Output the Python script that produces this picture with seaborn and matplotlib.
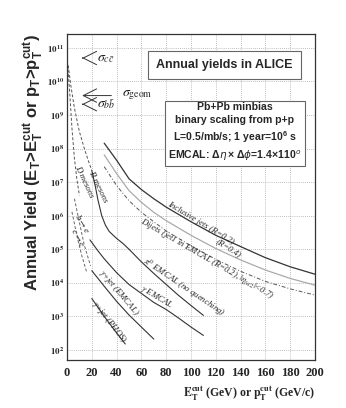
import numpy as np
import pandas as pd
import matplotlib
matplotlib.use("Agg")
import matplotlib.pyplot as plt
import seaborn as sns

# ---------------- data ----------------
jet_x = [30, 40, 50, 60, 70, 80, 100, 120, 140, 160, 180, 200]
incl_r02 = [1.45e8, 4.5e7, 1.26e7, 6.0e6, 3.2e6, 1.8e6, 6.6e5, 2.6e5, 1.2e5, 5.6e4, 3.0e4, 1.8e4]
incl_r04 = [6.5e7, 1.8e7, 5.6e6, 2.5e6, 1.26e6, 7.1e5, 2.6e5, 1.05e5, 4.8e4, 2.4e4, 1.35e4, 8.5e3]
dijets = [2.9e7, 7.9e6, 2.8e6, 1.26e6, 6.6e5, 3.5e5, 1.26e5, 5.0e4, 2.2e4, 1.1e4, 6.6e3, 4.3e3]

dmes_x = [0.5, 2, 4, 6, 8, 10]
dmes_y = [3.2e10, 6e9, 4e8, 5e7, 1.2e7, 4e6]
bmes_x = [1, 3, 6, 10, 14, 17, 20]
bmes_y = [3e10, 8e9, 1.6e9, 3.2e8, 1e8, 4.6e7, 2.2e7]

pi0_x = [20, 23, 25, 28, 31, 34, 40, 45, 50, 60, 70, 80, 90, 100, 110]
pi0_y = [2.2e7, 7e6, 2.9e6, 1.0e6, 5.2e5, 3.4e5, 2.1e5, 1.5e5, 1.0e5, 4.2e4, 1.9e4, 8.9e3, 4.2e3, 2.1e3, 1.07e3]
gam_x = [18.5, 25, 30, 40, 50, 60, 70, 80, 90, 100, 110]
gam_y = [1.9e5, 8.9e4, 5.2e4, 2.0e4, 8.9e3, 4.8e3, 2.6e3, 1.6e3, 8.9e2, 4.8e2, 2.7e2]
gjet_x = [20, 30, 40, 50, 60, 70]
gjet_y = [2.3e4, 7.9e3, 2.8e3, 1.1e3, 4.8e2, 2.1e2]
gphos_x = [20, 30, 40, 47]
gphos_y = [3.4e3, 1.0e3, 3.2e2, 1.5e2]
be_x = [6, 10, 14, 19]
be_y = [3.2e6, 6.3e5, 1.3e5, 3.2e4]
ce_x = [4, 8, 12, 16]
ce_y = [1.3e6, 2.5e5, 6.3e4, 2.0e4]

sigma_labels = [r"$\sigma_{c\bar{c}}$", r"$\sigma_{\rm geom}$", r"$\sigma_{b\bar{b}}$"]
sigma_y = [5.0e10, 3.8e9, 2.1e9]

x_ticks = [0, 20, 40, 60, 80, 100, 120, 140, 160, 180, 200]
y_ticks = [1e2, 1e3, 1e4, 1e5, 1e6, 1e7, 1e8, 1e9, 1e10, 1e11]

# ---------------- figure ----------------
sns.set_theme(style="white")
plt.rcParams["font.family"] = ["Liberation Serif", "DejaVu Serif"]
plt.rcParams["mathtext.fontset"] = "custom"
plt.rcParams["mathtext.bf"] = "Liberation Sans:bold"
plt.rcParams["mathtext.rm"] = "Liberation Sans:bold"

fig = plt.figure(figsize=(3.46, 4.08), dpi=100)
ax = fig.add_axes([67/346, 1-360/408, (315-67)/346, (360-34)/408])

def draw(x, y, **kw):
    df = pd.DataFrame({"x": x, "y": y})
    sns.lineplot(data=df, x="x", y="y", ax=ax, sort=False, legend=False, **kw)

draw(jet_x, incl_r02, color="#333333", lw=0.9)
draw(jet_x, incl_r04, color="#aaaaaa", lw=0.9)
draw(jet_x, dijets, color="#555555", lw=0.7, linestyle=(0, (4, 2, 1, 2)))
draw(dmes_x, dmes_y, color="#555555", lw=0.7, linestyle=(0, (3, 2)))
draw(bmes_x, bmes_y, color="#555555", lw=0.7, linestyle=(0, (3, 2)))
draw(pi0_x, pi0_y, color="#333333", lw=0.8)
draw(gam_x, gam_y, color="#333333", lw=0.8)
draw(gjet_x, gjet_y, color="#333333", lw=0.8)
draw(gphos_x, gphos_y, color="#333333", lw=0.8)
draw(be_x, be_y, color="#666666", lw=0.7, linestyle=(0, (3, 2)))
draw(ce_x, ce_y, color="#666666", lw=0.7, linestyle=(0, (3, 2)))

ax.set_yscale("log")
ax.set_xlim(0, 200)
ax.set_ylim(50, 2.6e11)
ax.set_xticks(x_ticks)
ax.set_xticks(np.arange(0, 201, 5), minor=True)
ax.set_yticks(y_ticks)
ax.set_xticklabels([str(t) for t in x_ticks], fontsize=9, fontweight="bold")
ax.set_yticklabels([r"$\mathbf{10^{%d}}$" % int(np.log10(t)) for t in y_ticks], fontsize=6.5)
ax.tick_params(axis="both", which="major", direction="in", length=6, width=0.8, pad=2)
ax.tick_params(axis="x", which="major", pad=5)
ax.tick_params(axis="both", which="minor", direction="in", length=3, width=0.6)
ax.grid(True, which="major", color="#aaaaaa", linestyle=(0, (1, 1.5)), lw=0.6)
for s in ax.spines.values():
    s.set_color("#333333")
    s.set_linewidth(0.9)

ax.set_xlabel(r"$\mathbf{E_T^{cut}}$ (GeV) or $\mathbf{p_T^{cut}}$ (GeV/c)", fontsize=8.5,
              fontweight="bold", ha="right")
ax.xaxis.set_label_coords(1.0, -0.075)
ax.set_ylabel(r"Annual Yield (E$\mathbf{_T}$>E$\mathbf{_T^{cut}}$ or p$\mathbf{_T}$>p$\mathbf{_T^{cut}}$)",
              fontsize=12, fontweight="bold", family="Liberation Sans", ha="right")
ax.yaxis.set_label_coords(-0.085, 1.0)

# title boxes
ax.text(0.635, 0.906, "Annual yields in ALICE", transform=ax.transAxes, ha="center", va="center",
        fontsize=9, fontweight="bold", family="Liberation Sans",
        bbox=dict(boxstyle="square,pad=0.65", fc="white", ec="#666666", lw=0.8))
ax.text(0.677, 0.698,
        "Pb+Pb minbias\nbinary scaling from p+p\nL=0.5/mb/s; 1 year=10$^{6}$ s\nEMCAL: $\\Delta\\eta\\times\\Delta\\phi$=1.4$\\times$110$^{o}$",
        transform=ax.transAxes, ha="center", va="center", fontsize=7.6, fontweight="bold",
        family="Liberation Sans", linespacing=1.35,
        bbox=dict(boxstyle="square,pad=0.3", fc="white", ec="#666666", lw=0.8))

# sigma arrows
for lab, yv, tail in zip(sigma_labels, sigma_y, [15, 38, 15]):
    ax.annotate("", xy=(10, yv), xytext=(tail, yv),
                arrowprops=dict(arrowstyle="->,head_length=0.8,head_width=0.4", color="#333333", lw=0.7))
sx = [24, 44, 24]
for lab, yv, xx in zip(sigma_labels, sigma_y, sx):
    ax.text(xx, yv, lab, fontsize=10, va="center", ha="left", math_fontfamily="stix")

# curve labels
lab_kw = dict(fontsize=6.3, style="italic", ha="center", va="center", rotation_mode="anchor",
              math_fontfamily="stix")
labels = [
    ("Inclusive jets (R=0.2)", 108, 6.2e5, -31),
    ("(R=0.4)", 130, 1.07e5, -32),
    (r"Dijets (jet1 in EMCAL (R=0.2), $|\eta_{jet2}|$<0.7)", 113, 5.0e4, -30),
    (r"$\pi^0$ EMCAL (no quenching)", 94, 7.4e3, -34),
    (r"$\gamma$ EMCAL", 72, 3.7e3, -31),
    (r"$\gamma$+jet (EMCAL)", 42, 5.1e3, -50),
    (r"$\gamma$+jet (PHOS)", 34, 6.6e2, -52),
    ("B mesons", 25.3, 7.1e6, -64),
    ("D mesons", 13.9, 1.0e7, -65),
    (r"b$\rightarrow$e", 12.5, 6.0e5, -60),
    (r"c$\rightarrow$e", 8.5, 2.2e5, -62),
]
for t, xx, yy, r in labels:
    ax.text(xx, yy, t, rotation=r, **lab_kw)

for t in ax.get_yticklabels() + ax.get_xticklabels():
    t.set_math_fontfamily("stix")
ax.xaxis.label.set_math_fontfamily("stix")

fig.savefig("out.png", dpi=100)
